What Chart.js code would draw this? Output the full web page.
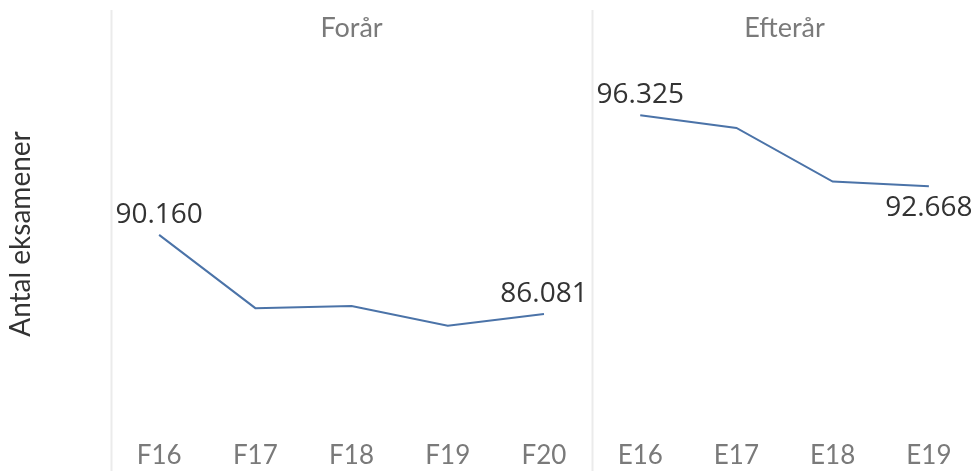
<!DOCTYPE html>
<html>
<head>
<meta charset="utf-8">
<script src="https://cdn.jsdelivr.net/npm/chart.js@4"></script>
<style>
html,body{margin:0;padding:0;background:#fff;}
#wrap{width:977px;height:471px;position:relative;}
</style>
</head>
<body>
<div id="wrap"><canvas id="c" width="977" height="471"></canvas></div>
<script>
const categories = ['F16','F17','F18','F19','F20','E16','E17','E18','E19'];
const panelTitles = ['Forår','Efterår'];
const panelSizes = [5,4];
const foraarValues = [90160, 86385, 86489, 85474, 86081, null, null, null, null];
const efteraarValues = [null, null, null, null, null, 96325, 95671, 92911, 92668];
const yAxisTitle = 'Antal eksamener';
const yMin = 80000, yMax = 100000;

function fmt(v){ return v.toLocaleString('da-DK'); }

const decor = {
  id: 'decor',
  beforeDatasetsDraw(chart){
    const ctx = chart.ctx, x = chart.scales.x, area = chart.chartArea;
    ctx.save();
    ctx.strokeStyle = '#ebebeb';
    ctx.lineWidth = 2;
    let idx = 0;
    const bounds = [];
    const step = x.getPixelForValue(1) - x.getPixelForValue(0);
    panelSizes.forEach((n) => {
      const left = x.getPixelForValue(idx) - step / 2;
      const right = x.getPixelForValue(idx + n - 1) + step / 2;
      bounds.push([left, right]);
      idx += n;
    });
    bounds.forEach(([l]) => {
      ctx.beginPath();
      ctx.moveTo(Math.round(l) + 0.5, 10);
      ctx.lineTo(Math.round(l) + 0.5, chart.height);
      ctx.stroke();
    });
    ctx.fillStyle = '#7a7a7a';
    ctx.font = '27px Lato';
    ctx.textAlign = 'center';
    ctx.textBaseline = 'alphabetic';
    bounds.forEach(([l, r], i) => {
      ctx.fillText(panelTitles[i], (l + Math.min(r, chart.width)) / 2, 37);
    });
    ctx.translate(30, (area.top + area.bottom) / 2 - 4);
    ctx.rotate(-Math.PI / 2);
    ctx.fillStyle = '#333333';
    ctx.font = '28px Lato';
    ctx.fillText(yAxisTitle, 0, 0);
    ctx.restore();
  },
  afterDatasetsDraw(chart){
    const ctx = chart.ctx;
    ctx.save();
    ctx.font = '28px "Open Sans"';
    ctx.fillStyle = '#333333';
    ctx.textAlign = 'center';
    chart.data.datasets.forEach((ds, di) => {
      const meta = chart.getDatasetMeta(di);
      const idxs = ds.data.map((v, i) => v == null ? -1 : i).filter(i => i >= 0);
      const first = idxs[0], last = idxs[idxs.length - 1];
      [first, last].forEach((i, k) => {
        const pt = meta.data[i];
        const v = ds.data[i];
        let xx = pt.x, yy;
        const below = di === 1 && k === 1;
        const w = ctx.measureText(fmt(v)).width;
        if (xx - w / 2 < 111) xx = 111 + w / 2;
        if (xx + w / 2 > chart.width - 1) xx = chart.width - 1 - w / 2;
        if (di === 1 && k === 0 && xx - w/2 < 593) xx = 593 + w / 2;
        if (below) { ctx.textBaseline = 'top'; yy = pt.y + 8; }
        else { ctx.textBaseline = 'alphabetic'; yy = pt.y - 12; }
        ctx.fillText(fmt(v), xx, yy);
      });
    });
    ctx.restore();
  }
};

new Chart(document.getElementById('c'), {
  type: 'line',
  data: {
    labels: categories,
    datasets: [
      { data: foraarValues, borderColor: '#4b73a8', borderWidth: 2, pointRadius: 0, spanGaps: false, tension: 0 },
      { data: efteraarValues, borderColor: '#4b73a8', borderWidth: 2, pointRadius: 0, spanGaps: false, tension: 0 }
    ]
  },
  options: {
    responsive: false,
    animation: false,
    events: [],
    layout: { padding: { left: 111, right: 0, top: 44, bottom: 0 } },
    plugins: { legend: { display: false }, tooltip: { enabled: false } },
    scales: {
      x: {
        offset: true,
        grid: { display: false, drawTicks: false },
        border: { display: false },
        ticks: { color: '#7a7a7a', font: { family: 'Lato', size: 26 }, padding: 8, maxRotation: 0, autoSkip: false },
        afterFit(s){ s.height = 39; }
      },
      y: { display: false, min: yMin, max: yMax }
    }
  },
  plugins: [decor]
});
</script>
</body>
</html>
